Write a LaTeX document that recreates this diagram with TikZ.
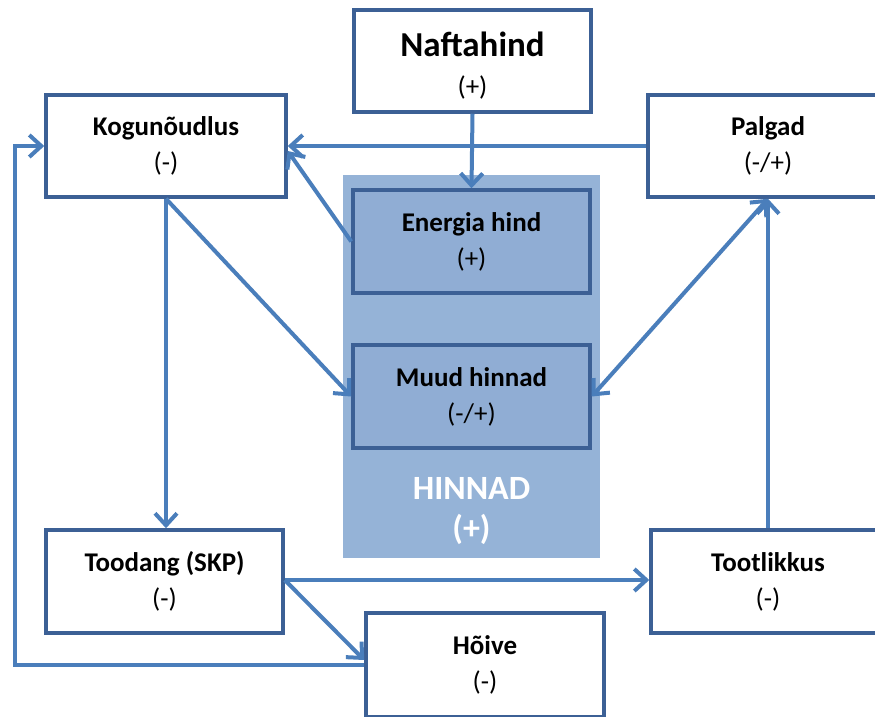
\documentclass[tikz,border=0pt]{standalone}
\usepackage{fontspec}
\setmainfont{Carlito}
\usetikzlibrary{arrows.meta,calc}
\definecolor{bordc}{HTML}{3C6095}
\definecolor{arrc}{HTML}{4A7EBB}
\definecolor{bgc}{HTML}{95B3D7}
\definecolor{innc}{HTML}{90ADD4}
\tikzset{
  boxn/.style={draw=bordc,line width=3.5pt,fill=white,rectangle,align=center,
    font=\fontsize{27}{36}\selectfont,inner sep=0pt},
  innbox/.style={boxn,fill=innc},
  txtn/.style={align=center,font=\fontsize{27}{36}\selectfont,inner sep=0pt},
  arr/.style={draw=arrc,line width=4pt,line join=miter,
    -{Straight Barb[length=12pt,width=22pt,line width=4pt]}},
  darr/.style={arr,{Straight Barb[length=12pt,width=22pt,line width=4pt]}-{Straight Barb[length=12pt,width=22pt,line width=4pt]}}
}
\begin{document}
\begin{tikzpicture}[x=1pt,y=-1pt]
\useasboundingbox (0,0) rectangle (875,717);
\begin{scope}
\clip (0,0) rectangle (875,717);
\fill[bgc] (343,175) rectangle (600,558);
\node[boxn,minimum width=237pt,minimum height=102pt] (naft) at (472.5,61) {};
\node[txtn] (nafttxt) at ([yshift=-5pt]naft.center)
  {{\fontsize{35}{36}\selectfont\bfseries Naftahind}\\[3pt](+)};
\node[boxn,minimum width=240pt,minimum height=102pt] (kog) at (166,146)
  {\textbf{Kogunõudlus}\\(-)};
\node[boxn,minimum width=240pt,minimum height=102pt] (palg) at (768,146)
  {\textbf{Palgad}\\(-/+)};
\node[innbox,minimum width=237pt,minimum height=103pt] (ener) at (471.5,241.5)
  {\textbf{Energia hind}\\(+)};
\node[innbox,minimum width=237pt,minimum height=103pt] (muud) at (471.5,396.5)
  {\textbf{Muud hinnad}\\(-/+)};
\node[text=white,align=center,font=\fontsize{34}{40}\selectfont\bfseries,inner sep=0pt] (hinn) at (471.5,511)
  {HINNAD\\(+)};
\node[boxn,minimum width=237pt,minimum height=103pt] (tood) at (164.5,581.5)
  {\textbf{Toodang\ (SKP)}\\(-)};
\node[boxn,minimum width=234pt,minimum height=103pt] (toot) at (768,581.5)
  {\textbf{Tootlikkus}\\(-)};
\node[boxn,minimum width=238pt,minimum height=104pt] (hoiv) at (485,665)
  {\textbf{Hõive}\\(-)};
\end{scope}
\coordinate (lft) at (15,0);
\draw[arr] (naft.south) -- (ener.north);
\draw[arr] (palg.west) -- (kog.east);
\draw[arr] (ener.west) -- ([yshift=-5pt]kog.east);
\draw[arr] (kog.south) -- (kog.south |- tood.north);
\draw[arr] (kog.south) -- (muud.west);
\draw[darr] (muud.east) -- (palg.south);
\draw[arr] (toot.north) -- (palg.south);
\draw[arr] ([yshift=1.5pt]tood.east) -- ([yshift=1.5pt]toot.west);
\draw[arr] ([yshift=1.5pt]tood.east) -- ([yshift=5pt]hoiv.west);
\draw[arr] (hoiv.west) -| (lft |- kog.west) -- (kog.west);
\end{tikzpicture}
\end{document}
